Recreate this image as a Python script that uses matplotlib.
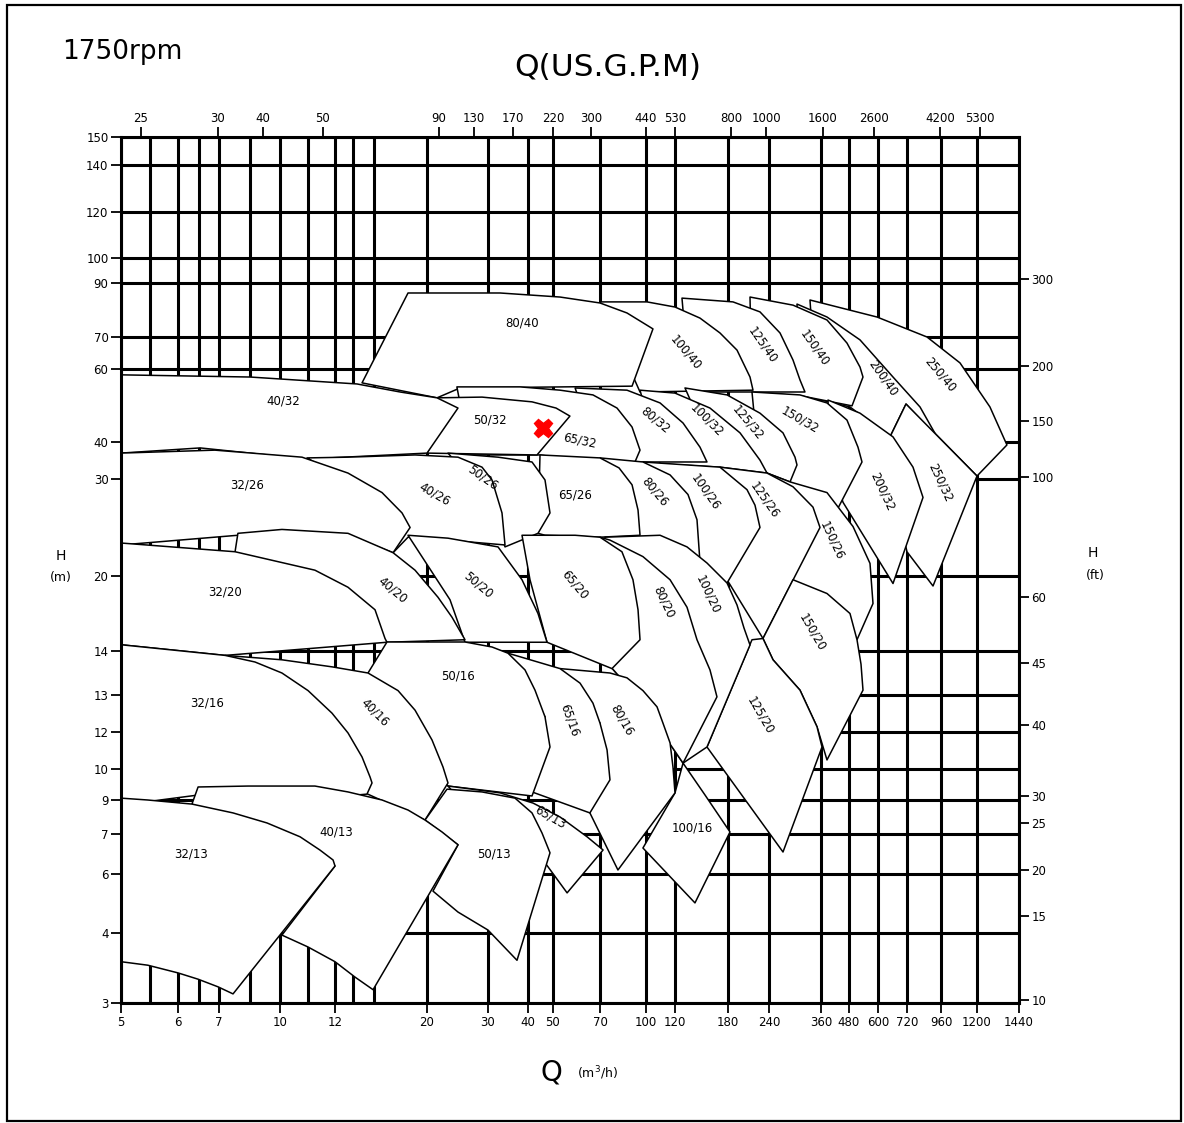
import numpy as np
import matplotlib
matplotlib.use("Agg")
import matplotlib.pyplot as plt
from matplotlib.patches import Polygon, Rectangle

# axis calibration of the scanned chart (value -> distance along the axis)
q_ref = [5, 6, 7, 10, 12, 20, 30, 40, 50, 70, 100, 120, 180, 240, 360, 480, 600, 720, 960, 1200, 1440]
q_pos = [0, 57, 98, 159, 214, 306, 367, 407, 432, 479, 525, 554, 607, 648, 700, 728, 757, 786, 820, 856, 898]
h_ref = [3, 4, 6, 7, 9, 10, 12, 13, 14, 20, 30, 40, 60, 70, 90, 100, 120, 140, 150]
h_pos = [0, 70, 129, 169, 203, 234, 271, 308, 352, 427, 524, 561, 634, 666, 720, 745, 791, 838, 866]
gpm_ref = [22, 25, 30, 40, 50, 90, 130, 170, 220, 300, 440, 530, 800, 1000, 1600, 2600, 4200, 5300, 6340]
gpm_pos = [0, 20, 97, 142, 202, 318, 353, 392, 432, 470, 525, 554, 610, 645, 702, 753, 819, 859, 898]

q_grid = [5, 5.5, 6, 6.5, 7, 8.5, 10, 11, 12, 13.6, 15.4, 20, 30, 40, 50, 70, 100, 120,
          180, 240, 360, 480, 600, 720, 960, 1200, 1440]
h_grid = h_ref
gpm_ticks = gpm_ref[1:-1]
ft_ticks = [10, 15, 20, 25, 30, 40, 45, 60, 100, 150, 200, 300]

duty_q, duty_h = 46, 43.8

# pump coverage areas, (Q m3/h, H m) outlines
m250_40 = [(334.6, 83.7), (595.9, 77.4), (861.2, 70), (1086.7, 61.9), (1274, 49.6), (1371, 39.2),
           (1200, 30.8), (715.9, 50.4), (525.5, 51.5), (339.2, 72.6)]
m200_40 = [(304.6, 82.2), (385.7, 77.4), (525.5, 69.1), (662.1, 57.8), (811.8, 49.6), (931.8, 41.4),
           (715.9, 50.4), (649.7, 41.4), (484.1, 49.6), (311.5, 52.9)]
m150_40 = [(212.2, 84.8), (295.4, 81.8), (385.7, 76.3), (471.4, 68.1), (525.5, 60.6), (537.9, 57.8),
           (492.4, 49.9), (316.1, 52.6), (215.1, 53.7)]
m125_40 = [(127.9, 84.4), (187.3, 83), (226.8, 79.3), (265.4, 71.5), (295.4, 62.8), (311.5, 57),
           (323, 53.7), (215.1, 53.7), (137, 53.7)]
m100_40 = [(70, 83), (100.7, 83), (120, 81.1), (148.3, 77), (170.9, 71.5), (193.2, 65.9),
           (212.2, 57.8), (216.6, 54.2), (96.1, 53.7)]
m80_40 = [(18.35, 86.3), (33, 86.3), (53, 84.8), (70, 82.6), (87.6, 78.9), (104.8, 73), (90.9, 55.3),
          (25.41, 54.8), (21.64, 52.1), (14.35, 56.2)]

m250_32 = [(715.9, 50.4), (1200, 30.8), (903.6, 19.2), (720, 22.5), (670.3, 27.8), (649.7, 41.4)]
m200_32 = [(390, 51.5), (525.5, 47.9), (662.1, 41.4), (762.4, 33.2), (833, 28.1), (662.1, 19.4),
           (454.3, 27.6), (398.6, 35.1)]
m150_32 = [(215.1, 53.7), (311.5, 52.9), (385.7, 50.7), (471.4, 46), (517.2, 38.6), (533.8, 34.6),
           (428.6, 26.8), (288.5, 29.7), (226.8, 31.1)]
m125_32 = [(131.3, 54.8), (178.9, 52.9), (226.8, 47.9), (272.3, 42.5), (300, 35.9), (304.6, 33.8),
           (288.5, 29.7), (237.1, 31.6), (170.9, 33.2)]
m100_32 = [(96.1, 54.2), (120, 53.4), (159.6, 49.3), (197.6, 42.5), (226.8, 35.1), (237.1, 31.6),
           (170.9, 33.2), (109.7, 34.1)]
m80_32 = [(59.4, 54.8), (87.6, 54.2), (109.7, 50.7), (129.1, 45.2), (148.3, 38.6), (156.2, 34.6),
          (98, 34.6), (70, 35.1)]
m65_32 = [(24.9, 55.1), (38, 55.1), (53, 54.2), (67, 52.9), (81.1, 49.3), (90.9, 44.1), (96.1, 37.8),
          (92.8, 34.6), (53, 35.7), (44.8, 36.5), (27.05, 36.5)]
m50_32 = [(21.64, 52.1), (29.02, 52.3), (41.6, 51), (51.3, 49.3), (57.2, 47.1), (43.6, 36.5),
          (20, 37), (22.95, 46)]
m40_32 = [(5, 58.4), (8.53, 57.8), (13.91, 55.9), (17.66, 53.7), (21.64, 52.1), (25.08, 49.3),
          (20, 37), (10.98, 35.4), (6.54, 38.4), (5, 37)]

m150_26 = [(237.1, 31.6), (288.5, 29.7), (385.7, 28.6), (496.6, 25.1), (566.9, 21.3), (579.3, 17.8),
           (513.1, 14.9), (295.4, 19.7), (288.5, 25.8)]
m125_26 = [(170.9, 33.2), (237.1, 31.6), (295.4, 29.2), (341.5, 27.1), (357.7, 25), (231.2, 15.0),
           (178.9, 19.7), (204.9, 25.8)]
m100_26 = [(98, 34.6), (170.9, 33.2), (207.8, 28.9), (219.5, 27.3), (226.8, 25), (178.9, 19.44),
           (148.3, 20.1), (125.7, 25.8)]
m80_26 = [(70, 35.7), (98, 34.6), (116.6, 31.1), (134.7, 28.4), (144.9, 25.8), (148.3, 21.4),
          (109.7, 20.6), (82.4, 22.9)]
m65_26 = [(44.8, 36.5), (70, 35.7), (82.4, 33), (90.9, 29.4), (94.8, 26.8), (96.1, 24.2),
          (70, 24), (46.8, 24.2), (44, 24.4)]
m50_26 = [(23.44, 37), (32.5, 35.9), (41.6, 34.6), (46.8, 29.9), (48.8, 26.5), (44, 24.4),
          (34.25, 23), (30.5, 27.8)]
m40_26 = [(10.98, 35.7), (13.13, 35.9), (18.96, 36.5), (25.08, 35.9), (29.02, 33.2), (31, 29.9),
          (33.5, 26.5), (34.25, 23.2), (23.44, 23.7), (18.35, 24), (17.05, 22.4), (15.92, 27.8)]
m32_26 = [(5, 37), (6.9, 37.8), (10.8, 35.9), (13.13, 31.6), (16.09, 28.6), (17.83, 26.5),
          (18.53, 25), (17.05, 22.4), (13.13, 24.2), (10.07, 24.7), (7.93, 24.2), (5, 23.2)]

m150_20 = [(295.4, 19.7), (385.7, 18.6), (484.1, 17.0), (513.1, 14.9), (529.7, 13.7), (537.9, 13.11),
           (385.7, 10.49), (350.8, 12.14), (311.5, 13.11), (249.2, 13.8), (231.2, 15.0)]
m125_20 = [(215.1, 14.9), (231.2, 15.0), (249.2, 13.8), (311.5, 13.11), (350.8, 12.14), (364.3, 11.19),
           (272.3, 6.55), (156.2, 11.19)]
m100_20 = [(73.3, 24), (109.7, 24.2), (133.6, 23.0), (156.2, 21.34), (178.9, 19.44), (193.2, 17.68),
           (203.4, 15.84), (212.2, 14.48), (156.2, 11.19), (129.1, 10.32), (96.1, 12.86), (77.8, 13.61),
           (65.7, 18.1)]
m80_20 = [(70, 24), (76.5, 23.7), (98, 22), (116.6, 19.7), (133.6, 17.5), (144.9, 14.9), (159.6, 13.57),
          (167.5, 12.95), (129.1, 10.32), (96.1, 12.86), (77.8, 13.61), (61.5, 18.1)]
m65_20 = [(38.5, 24.2), (59.4, 24.2), (70, 24), (84.3, 22.5), (91.5, 19.7), (94.8, 17.3), (96.1, 14.9),
          (77.8, 13.6), (47.6, 14.7), (40.8, 19.7)]
m50_20 = [(18.35, 24.2), (23.44, 23.9), (32.5, 23), (38.5, 19.7), (44, 17), (47.6, 14.7),
          (26.23, 14.7), (23.77, 18.1)]
m40_20 = [(7.93, 24.4), (10.07, 24.8), (13.13, 24.4), (17.05, 22.4), (18.96, 20.6), (21.8, 18.3),
          (24.1, 16.7), (26.23, 14.9), (16.52, 14.7), (10.73, 14.9), (7.79, 22.5)]
m32_20 = [(5, 23.4), (7.79, 22.5), (11.27, 20.6), (13.13, 19.1), (15.48, 17.3), (16.35, 15),
          (16.52, 14.7), (7.3, 13.9), (5, 14.5)]

m100_16 = [(129.1, 10.32), (154, 9.16), (182.9, 7.12), (142.6, 5.02), (98, 6.65), (120, 9.23)]
m80_16 = [(53, 13.6), (76.5, 13.5), (87.6, 13.39), (98, 13.1), (107.6, 12.68), (111.7, 12.24),
          (116.6, 11.41), (118.6, 10.11), (120, 9.23), (81.7, 6.1), (65.7, 8.24), (70, 12.24)]
m65_16 = [(35, 13.95), (53, 13.6), (61.5, 13.27), (67, 12.78), (70, 12.24), (74.6, 11.03), (76.5, 9.65),
          (65.7, 8.24), (41.6, 9.26), (46.8, 12.41)]
m50_16 = [(16.52, 14.72), (26.23, 14.72), (31, 14.32), (35, 13.95), (39.25, 13.57), (42.8, 13.11),
          (46.8, 12.41), (48.8, 11.19), (41.6, 9.13), (23.44, 9.45), (14.87, 13.5)]
m40_16 = [(7.3, 13.9), (10.07, 13.8), (11.89, 13.64), (14.87, 13.5), (17.48, 13.1), (18.96, 12.59),
          (20.82, 11.57), (22.62, 10.11), (23.44, 9.55), (19.83, 7.82), (14.61, 9.23), (10.73, 9.3)]
m32_16 = [(5, 14.5), (7.3, 13.9), (8.77, 13.75), (10.07, 13.5), (11.02, 13.1), (11.89, 12.51),
          (13.13, 11.95), (14.35, 10.65), (15.05, 9.74), (15.22, 9.55), (14.78, 9.19), (10.73, 9.0),
          (6.49, 9.16), (5, 8.7)]

m65_13 = [(23.44, 9.45), (33, 9.23), (42, 8.82), (53, 8.0), (64.5, 6.93), (72, 6.6), (56, 5.36),
          (48, 6.18), (38, 7.24), (25.41, 9)]
m50_13 = [(23.28, 9.35), (29.02, 9.26), (36.75, 9.06), (41.6, 8.24), (45.6, 7.06), (48.8, 6.53),
          (37.25, 3.61), (30, 4.1), (25.08, 4.71), (20.98, 5.42), (25.08, 6.73), (19.83, 7.82)]
m40_13 = [(6.49, 9.42), (8.43, 9.45), (11.27, 9.45), (13.13, 9.26), (16.09, 9), (18.35, 8.41),
          (19.83, 7.82), (22.46, 7.12), (25.08, 6.73), (15.31, 3.19), (13.74, 3.37), (12, 3.59),
          (11.02, 3.8), (10.07, 3.97), (12, 6.2), (6.34, 8.76)]
m32_13 = [(5, 9.06), (5.47, 9.0), (6.34, 8.76), (7.69, 8.24), (9.36, 7.65), (10.73, 6.93), (11.45, 6.6),
          (11.93, 6.35), (12, 6.2), (7.69, 3.13), (6.98, 3.23), (6.49, 3.34), (6, 3.43), (5.47, 3.54),
          (5, 3.59)]

# drawing order: upper rows first, larger pumps first inside a row
areas = [("250/40", m250_40), ("200/40", m200_40), ("150/40", m150_40), ("125/40", m125_40),
         ("100/40", m100_40), ("80/40", m80_40),
         ("250/32", m250_32), ("200/32", m200_32), ("150/32", m150_32), ("125/32", m125_32),
         ("100/32", m100_32), ("80/32", m80_32), ("65/32", m65_32), ("50/32", m50_32), ("40/32", m40_32),
         ("150/26", m150_26), ("125/26", m125_26), ("100/26", m100_26), ("80/26", m80_26),
         ("65/26", m65_26), ("50/26", m50_26), ("40/26", m40_26), ("32/26", m32_26),
         ("150/20", m150_20), ("125/20", m125_20), ("100/20", m100_20), ("80/20", m80_20),
         ("65/20", m65_20), ("50/20", m50_20), ("40/20", m40_20), ("32/20", m32_20),
         ("100/16", m100_16), ("80/16", m80_16), ("65/16", m65_16), ("50/16", m50_16),
         ("40/16", m40_16), ("32/16", m32_16),
         ("65/13", m65_13), ("50/13", m50_13), ("40/13", m40_13), ("32/13", m32_13)]

# label anchor (Q, H) and text angle
label_at = {"80/40": (38.5, 75.2, 0), "100/40": (132.5, 65.3, -50), "125/40": (231.2, 67.5, -55),
            "150/40": (346.2, 66.6, -55), "200/40": (620.7, 57.5, -55), "250/40": (953, 58.4, -50),
            "40/32": (10.11, 51.2, 0), "50/32": (30.5, 46, 0), "65/32": (61.5, 40.5, -12),
            "80/32": (106.2, 46, -40), "100/32": (156.2, 46, -45), "125/32": (209.3, 45.2, -50),
            "150/32": (311.5, 46, -30), "200/32": (616.6, 28.7, -65), "250/32": (953, 29.6, -65),
            "32/26": (8.38, 29.4, 0), "40/26": (21.3, 28.4, -30), "50/26": (29.2, 30.3, -35),
            "65/26": (59.4, 28.4, 0), "80/26": (106.2, 28.7, -50), "100/26": (155.1, 28.7, -55),
            "125/26": (234, 27.8, -55), "150/26": (407, 23.7, -65),
            "32/20": (7.3, 18.7, 0), "40/20": (17, 18.9, -40), "50/20": (28.4, 19.3, -40),
            "65/20": (59.4, 19.3, -50), "80/20": (112.4, 17.9, -65), "100/20": (157.3, 18.5, -65),
            "125/20": (226.8, 12.46, -60), "150/20": (339.2, 15.5, -60),
            "32/16": (6.71, 12.78, 0), "40/16": (15.5, 12.54, -45), "50/16": (25.1, 13.43, 0),
            "65/16": (57.2, 12.32, -70), "80/16": (84.3, 12.32, -60), "100/16": (139.2, 7.35, 0),
            "32/13": (6.32, 6.5, 0), "40/13": (12.09, 7.12, 0), "50/13": (31.5, 6.5, 0),
            "65/13": (48.8, 8.0, -30)}


def q_fwd(v):
    return np.interp(v, q_ref, q_pos)


def q_inv(p):
    return np.interp(p, q_pos, q_ref)


def h_fwd(v):
    return np.interp(v, h_ref, h_pos)


def h_inv(p):
    return np.interp(p, h_pos, h_ref)


def g_fwd(v):
    return np.interp(v, gpm_ref, gpm_pos)


def g_inv(p):
    return np.interp(p, gpm_pos, gpm_ref)


W, H = 1184, 1123
fig = plt.figure(figsize=(W / 100, H / 100), dpi=100)
ax = fig.add_axes([121 / W, 1 - 1003 / H, 898 / W, 866 / H])
ax.set_xscale('function', functions=(q_fwd, q_inv))
ax.set_yscale('function', functions=(h_fwd, h_inv))
ax.set_xlim(5, 1440)
ax.set_ylim(3, 150)

for q in q_grid:
    ax.axvline(q, color='black', lw=2.2, zorder=1)
for h in h_grid:
    ax.axhline(h, color='black', lw=2.2, zorder=1)

for name, pts in areas:
    ax.add_patch(Polygon(pts, closed=True, facecolor='white', edgecolor='black',
                         lw=1.1, joinstyle='round', zorder=2))
    lq, lh, rot = label_at[name]
    ax.text(lq, lh, name, fontsize=8.5, ha='center', va='center', rotation=rot,
            rotation_mode='anchor', zorder=3)

ax.plot(duty_q, duty_h, marker='X', color='red', ms=13, mec='red', zorder=5)

for s in ax.spines.values():
    s.set_linewidth(2.2)
    s.set_zorder(4)

ax.set_xticks(q_ref)
ax.set_xticklabels([str(v) for v in q_ref])
ax.set_yticks(h_ref)
ax.set_yticklabels([str(v) for v in h_ref])
ax.xaxis.set_minor_locator(matplotlib.ticker.NullLocator())
ax.yaxis.set_minor_locator(matplotlib.ticker.NullLocator())
ax.tick_params(direction='out', length=7, width=1.3, labelsize=8.5, pad=2)

# top axis: US gallons per minute
axt = ax.twiny()
axt.set_xscale('function', functions=(g_fwd, g_inv))
axt.set_xlim(gpm_ref[0], gpm_ref[-1])
axt.set_xticks(gpm_ticks)
axt.set_xticklabels([str(g) for g in gpm_ticks])
axt.xaxis.set_minor_locator(matplotlib.ticker.NullLocator())
axt.tick_params(direction='out', length=7, width=1.3, labelsize=8.5, pad=2)
for s in axt.spines.values():
    s.set_visible(False)

# right axis: head in feet
axr = ax.twinx()
axr.set_yscale('function', functions=(h_fwd, h_inv))
axr.set_ylim(3, 150)
axr.set_yticks([f * 0.3048 for f in ft_ticks])
axr.set_yticklabels([str(f) for f in ft_ticks])
axr.yaxis.set_minor_locator(matplotlib.ticker.NullLocator())
axr.tick_params(direction='out', length=7, width=1.3, labelsize=8.5, pad=2)
for s in axr.spines.values():
    s.set_visible(False)

fig.text(62 / W, 1 - 52 / H, "1750rpm", fontsize=19, ha='left', va='center')
fig.text(608 / W, 1 - 68 / H, "Q(US.G.P.M)", fontsize=22.5, ha='center', va='center')
fig.text(551 / W, 1 - 1073 / H, "Q", fontsize=20, ha='center', va='center')
fig.text(598 / W, 1 - 1073 / H, "(m$^3$/h)", fontsize=9, ha='center', va='center')
fig.text(61 / W, 1 - 556 / H, "H", fontsize=10, ha='center', va='center')
fig.text(61 / W, 1 - 577 / H, "(m)", fontsize=9, ha='center', va='center')
fig.text(1093 / W, 1 - 553 / H, "H", fontsize=10, ha='center', va='center')
fig.text(1095 / W, 1 - 575 / H, "(ft)", fontsize=9, ha='center', va='center')

fig.patches.append(Rectangle((7 / W, 2 / H), 1174 / W, 1116 / H, transform=fig.transFigure,
                             fill=False, edgecolor='black', lw=1.6))

fig.savefig("out.png", dpi=100)
